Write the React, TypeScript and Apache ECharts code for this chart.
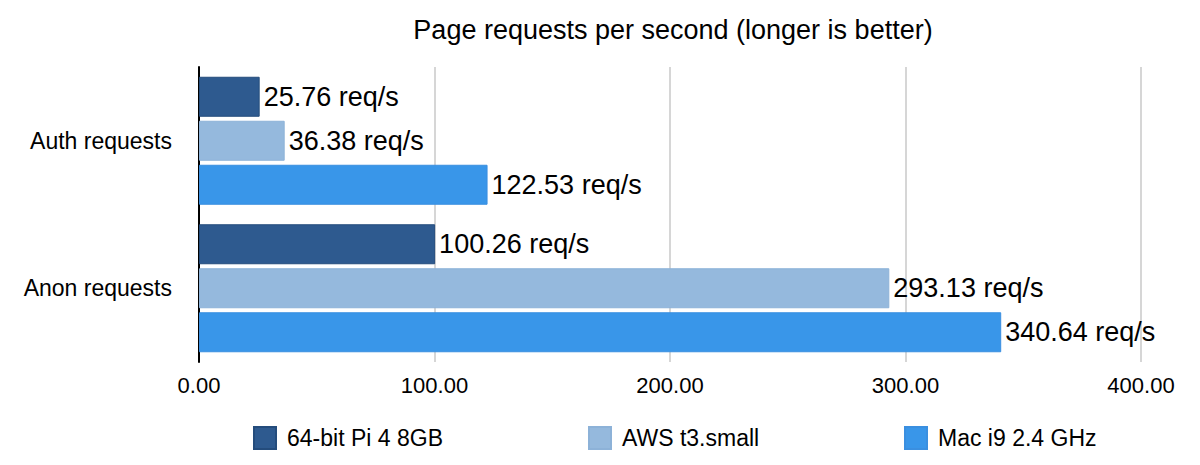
import React, { useEffect, useRef } from "react";
import * as echarts from "echarts";

const categories = ["Auth requests", "Anon requests"];
const seriesNames = ["64-bit Pi 4 8GB", "AWS t3.small", "Mac i9 2.4 GHz"];
const piValues = [25.76, 100.26];
const awsValues = [36.38, 293.13];
const macValues = [122.53, 340.64];
const colors = ["#2E5A8F", "#95B9DD", "#3996E9"];
const borders = ["#244C7C", "#8DB2D8", "#3A8FE0"];

export default function App() {
  const ref = useRef<HTMLDivElement>(null);
  useEffect(() => {
    const chart = echarts.init(ref.current!, null, { renderer: "svg" });
    const font = "Helvetica, Arial, 'Liberation Sans', sans-serif";
    const values = [piValues, awsValues, macValues];
    const legendLefts = [248, 583, 899];
    chart.setOption({
      animation: false,
      title: {
        text: "Page requests per second (longer is better)",
        left: 668,
        textAlign: "center",
        top: 11,
        textStyle: { fontFamily: font, fontSize: 27, fontWeight: "normal", color: "#000" },
      },
      legend: seriesNames.map((n, i) => ({
        data: [n],
        left: legendLefts[i],
        top: 421,
        itemWidth: 22,
        itemHeight: 22,
        itemGap: 13,
        icon: "rect",
        textStyle: { fontFamily: font, fontSize: 23, color: "#000", padding: [0, 0, 0, 6] },
      })),
      grid: { left: 199, right: 59, top: 67, bottom: 103, containLabel: false },
      xAxis: {
        type: "value",
        min: 0,
        max: 400,
        interval: 100,
        axisLine: { show: false },
        axisTick: { show: false },
        splitLine: { show: true, lineStyle: { color: "#c8c8c8", width: 1.5 } },
        axisLabel: {
          formatter: (v: number) => v.toFixed(2),
          fontFamily: font,
          fontSize: 22,
          color: "#000",
          margin: 12,
        },
      },
      yAxis: {
        type: "category",
        data: categories,
        inverse: true,
        axisLine: { show: true, lineStyle: { color: "#000", width: 2 } },
        axisTick: { show: false },
        axisLabel: { fontFamily: font, fontSize: 23, color: "#000", margin: 27 },
      },
      series: seriesNames.map((n, i) => ({
        name: n,
        type: "bar",
        data: values[i],
        barWidth: 40,
        barGap: "10%",
        barCategoryGap: "13%",
        itemStyle: { color: colors[i], borderColor: borders[i], borderWidth: 1 },
        label: {
          show: true,
          position: "right",
          distance: 4,
          formatter: (p: any) => p.value.toFixed(2) + " req/s",
          fontFamily: font,
          fontSize: 27,
          color: "#000",
        },
      })),
    });
    return () => chart.dispose();
  }, []);
  return <div ref={ref} style={{ width: 1200, height: 465, position: "absolute", left: 0, top: 0 }} />;
}
